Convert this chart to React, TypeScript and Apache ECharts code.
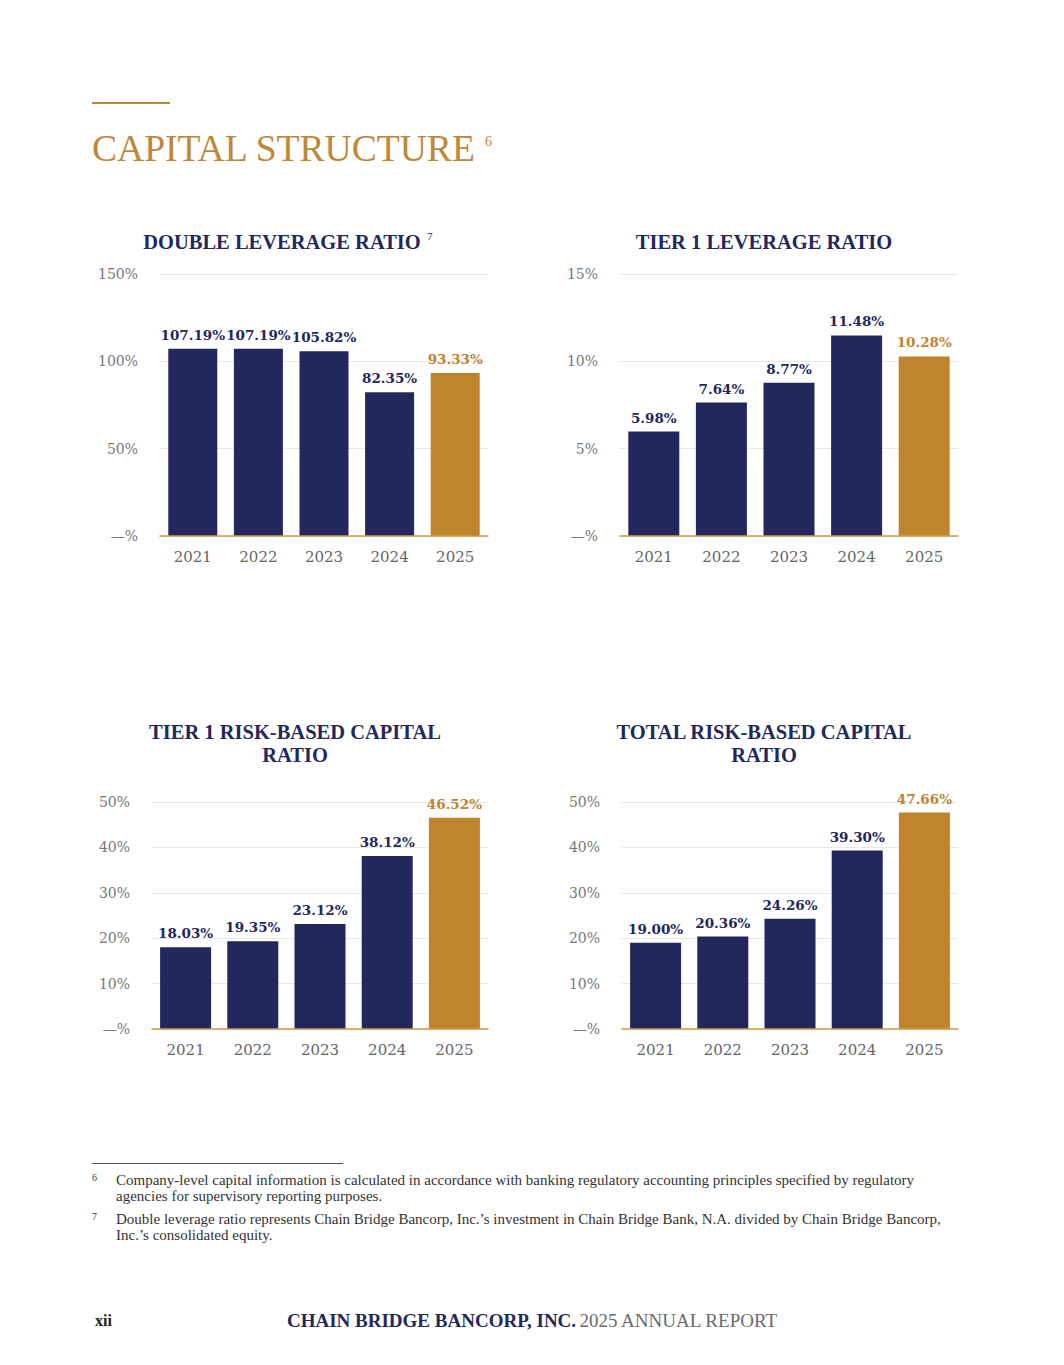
import React, { useEffect, useRef } from "react";
import * as echarts from "echarts";

const years = ["2021", "2022", "2023", "2024", "2025"];
const doubleLeverage = [107.19, 107.19, 105.82, 82.35, 93.33];
const tier1Leverage = [5.98, 7.64, 8.77, 11.48, 10.28];
const tier1RiskBased = [18.03, 19.35, 23.12, 38.12, 46.52];
const totalRiskBased = [19.0, 20.36, 24.26, 39.3, 47.66];

const axisMax = [150, 15, 50, 50];
const axisInterval = [50, 5, 10, 10];

const footnote6 = [
  "Company-level capital information is calculated in accordance with banking regulatory accounting principles specified by regulatory",
  "agencies for supervisory reporting purposes.",
];
const footnote7 = [
  "Double leverage ratio represents Chain Bridge Bancorp, Inc.\u2019s investment in Chain Bridge Bank, N.A. divided by Chain Bridge Bancorp,",
  "Inc.\u2019s consolidated equity.",
];

const NAVY = "#23285c";
const GOLD = "#c0842d";
const TITLE_GOLD = "#bd8838";
const SERIF = "'Liberation Serif', 'DejaVu Serif', serif";
const NUM = "'DejaVu Serif', 'Liberation Serif', serif";

const grids = [
  { left: 160, top: 274, width: 328, height: 262 },
  { left: 620, top: 274, width: 338, height: 262 },
  { left: 152, top: 802, width: 336, height: 227 },
  { left: 622, top: 802, width: 336, height: 227 },
];
const barWidths = [49, 51, 51, 51];
const seriesData = [doubleLeverage, tier1Leverage, tier1RiskBased, totalRiskBased];

export default function App() {
  const ref = useRef<HTMLDivElement>(null);
  useEffect(() => {
    if (!ref.current) return;
    const chart = echarts.init(ref.current, undefined, { renderer: "svg" });

    const xAxis = grids.map((_, i) => ({
      type: "category",
      gridIndex: i,
      data: years,
      axisTick: { show: false },
      axisLine: { show: true, lineStyle: { color: "#d09a4c", width: 1.5 } },
      axisLabel: { color: "#666", fontFamily: NUM, fontSize: 15, margin: 13 },
      z: 5,
    }));
    const yAxis = grids.map((_, i) => ({
      type: "value",
      gridIndex: i,
      min: 0,
      max: axisMax[i],
      interval: axisInterval[i],
      axisLine: { show: false },
      axisTick: { show: false },
      splitLine: { lineStyle: { color: "#e8e8e8", width: 1 } },
      axisLabel: {
        color: "#777",
        fontFamily: NUM,
        fontSize: 14,
        margin: 22,
        formatter: (v: number) => (v === 0 ? "\u2014%" : v + "%"),
      },
    }));
    const series = seriesData.map((arr, i) => ({
      type: "bar",
      xAxisIndex: i,
      yAxisIndex: i,
      barWidth: barWidths[i],
      data: arr.map((v, j) => ({
        value: v,
        itemStyle: { color: j === arr.length - 1 ? GOLD : NAVY },
        label: { color: j === arr.length - 1 ? GOLD : NAVY },
      })),
      label: {
        show: true,
        position: "top",
        distance: 7,
        fontFamily: NUM,
        fontWeight: "bold",
        fontSize: 13.5,
        formatter: (p: any) => p.value.toFixed(2) + "%",
      },
    }));

    const titleText = (text: string, x: number, y: number) => ({
      type: "text",
      x,
      y,
      style: {
        text,
        fill: NAVY,
        font: `bold 20.5px ${SERIF}`,
        textAlign: "center",
        textVerticalAlign: "middle",
      },
    });
    const plain = (text: string, x: number, y: number, font: string, fill: string, align = "left") => ({
      type: "text",
      x,
      y,
      style: { text, fill, font, textAlign: align, textVerticalAlign: "middle" },
    });

    const graphic: any[] = [
      { type: "line", shape: { x1: 92, y1: 103, x2: 170, y2: 103 }, style: { stroke: TITLE_GOLD, lineWidth: 2 } },
      plain("CAPITAL STRUCTURE", 92, 148, `37.6px ${SERIF}`, TITLE_GOLD),
      plain("6", 485, 141, `14px ${SERIF}`, TITLE_GOLD),
      titleText("DOUBLE LEVERAGE RATIO", 282, 242),
      plain("7", 427, 236, `11px ${SERIF}`, NAVY),
      titleText("TIER 1 LEVERAGE RATIO", 764, 242),
      titleText("TIER 1 RISK-BASED CAPITAL", 295, 732),
      titleText("RATIO", 295, 755),
      titleText("TOTAL RISK-BASED CAPITAL", 764, 732),
      titleText("RATIO", 764, 755),
      { type: "line", shape: { x1: 92, y1: 1163.5, x2: 343, y2: 1163.5 }, style: { stroke: "#555", lineWidth: 1 } },
      plain("6", 92, 1177, `10px ${SERIF}`, "#333"),
      plain(footnote6[0], 116, 1180, `15px ${SERIF}`, "#333"),
      plain(footnote6[1], 116, 1196, `15px ${SERIF}`, "#333"),
      plain("7", 92, 1216, `10px ${SERIF}`, "#333"),
      plain(footnote7[0], 116, 1219, `15px ${SERIF}`, "#333"),
      plain(footnote7[1], 116, 1235, `15px ${SERIF}`, "#333"),
      plain("xii", 95, 1320, `bold 16px ${SERIF}`, "#222"),
      {
        type: "text",
        x: 287,
        y: 1320,
        style: {
          text: "{b|CHAIN BRIDGE BANCORP, INC.} {r|2025 ANNUAL REPORT}",
          textVerticalAlign: "middle",
          rich: {
            b: { fontFamily: SERIF, fontWeight: "bold", fontSize: 19, fill: NAVY, color: NAVY },
            r: { fontFamily: SERIF, fontSize: 19, fill: "#6b6b6b", color: "#6b6b6b" },
          },
        },
      },
    ];

    chart.setOption({
      animation: false,
      backgroundColor: "#ffffff",
      grid: grids,
      xAxis,
      yAxis,
      series,
      graphic,
    } as any);
    return () => chart.dispose();
  }, []);
  return (
    <div
      ref={ref}
      style={{ position: "absolute", left: 0, top: 0, width: 1064, height: 1365, background: "#fff" }}
    />
  );
}
